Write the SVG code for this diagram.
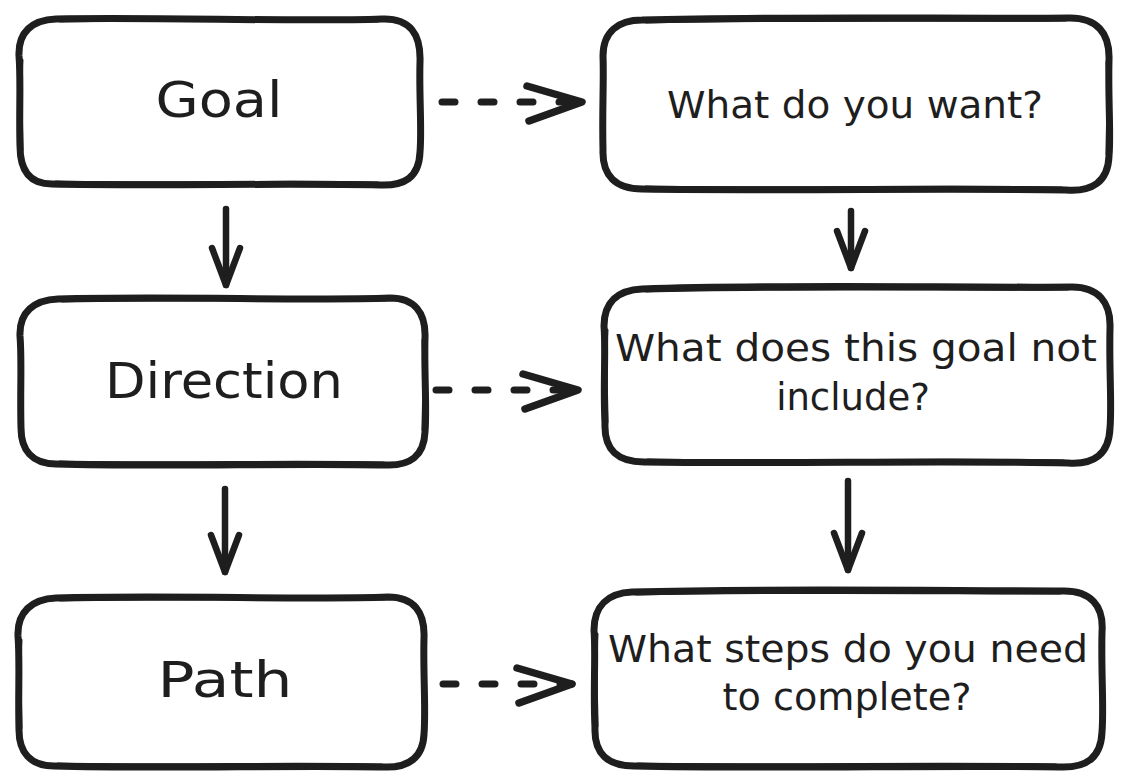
<svg xmlns="http://www.w3.org/2000/svg" width="1128" height="782" viewBox="0 0 1128 782">
<style>
.box{fill:#ffffff;stroke:#1e1e1e;stroke-width:7;stroke-linejoin:round;stroke-linecap:round}
.box2{fill:none;stroke:#1e1e1e;stroke-width:3;stroke-linecap:round}
.lbl{font-family:"DejaVu Sans","Liberation Sans",sans-serif;fill:#1e1e1e;text-anchor:middle}
.big{font-size:50px}
.q{font-size:37px}
.solid{fill:none;stroke:#1e1e1e;stroke-width:6.5;stroke-linecap:round}
.dash{fill:none;stroke:#1e1e1e;stroke-width:7;stroke-linecap:round;stroke-dasharray:13 26}
</style>
<defs>
<marker id="headV" markerUnits="userSpaceOnUse" orient="auto" refX="0" refY="0" markerWidth="60" markerHeight="50" viewBox="-45 -25 60 50" overflow="visible">
<path d="M-37,-14 L0,0 L-37,14" fill="none" stroke="#1e1e1e" stroke-width="6.5" stroke-linecap="round" stroke-linejoin="round" stroke-dasharray="none"/>
</marker>
<marker id="headD" markerUnits="userSpaceOnUse" orient="auto" refX="0" refY="0" markerWidth="80" markerHeight="60" viewBox="-65 -30 80 60" overflow="visible">
<path d="M-55,-16 L0,0 L-53,19" fill="none" stroke="#1e1e1e" stroke-width="7.5" stroke-linecap="round" stroke-linejoin="round" stroke-dasharray="none"/>
</marker>
</defs>

<g id="connectors">
<path class="dash" d="M442,102 L582,102" marker-end="url(#headD)"/>
<path class="dash" d="M436,390 L578,390" marker-end="url(#headD)"/>
<path class="dash" d="M443,684 L572,684" marker-end="url(#headD)"/>
<path class="solid" d="M226,209 L226,285" marker-end="url(#headV)"/>
<path class="solid" d="M225,489 L225,572" marker-end="url(#headV)"/>
<path class="solid" d="M851,211 L851,268" marker-end="url(#headV)"/>
<path class="solid" d="M848,481 L848,570" marker-end="url(#headV)"/>
</g>

<g id="goal">
<path class="box" d="M 56 19 C 160 17, 300 22, 382 19 C 410 18, 421 34, 420 62 C 419 95, 422 130, 420 152 C 419 178, 404 186, 380 185 C 290 183, 150 186, 52 184 C 28 184, 20 168, 20 146 C 19 110, 21 80, 19 56 C 18 32, 32 20, 56 19 Z"/>
<path class="box2" d="M 60 21 C 170 19, 300 20, 378 21 M 22 60 C 20 100, 22 130, 22 150 M 56 182 C 160 184, 300 181, 378 183"/>
<text class="lbl big" x="219" y="117" textLength="127" lengthAdjust="spacingAndGlyphs">Goal</text>
</g>

<g id="direction">
<path class="box" d="M 58 299 C 170 296, 310 301, 390 298 C 414 298, 426 312, 425 338 C 424 370, 427 410, 425 432 C 424 456, 410 466, 386 465 C 290 463, 160 467, 56 464 C 32 464, 21 450, 21 428 C 20 390, 22 360, 20 336 C 19 312, 34 300, 58 299 Z"/>
<path class="box2" d="M 62 301 C 170 299, 300 300, 386 300 M 423 340 C 425 380, 423 410, 423 430 M 60 462 C 170 464, 300 461, 384 463"/>
<text class="lbl big" x="224" y="398" textLength="238" lengthAdjust="spacingAndGlyphs">Direction</text>
</g>

<g id="path">
<path class="box" d="M 56 598 C 170 595, 310 600, 388 597 C 414 597, 425 612, 424 638 C 423 672, 426 710, 424 734 C 423 758, 408 768, 384 767 C 290 765, 160 769, 54 766 C 30 766, 19 752, 19 730 C 18 692, 20 662, 18 636 C 17 612, 32 599, 56 598 Z"/>
<path class="box2" d="M 60 600 C 170 598, 300 599, 384 599 M 21 640 C 19 680, 21 710, 21 728 M 58 764 C 170 766, 300 763, 382 765"/>
<text class="lbl big" x="225" y="697" textLength="135" lengthAdjust="spacingAndGlyphs">Path</text>
</g>

<g id="want">
<path class="box" d="M 642 20 C 780 16, 960 19, 1070 18 C 1096 18, 1110 32, 1109 60 C 1108 100, 1111 135, 1109 156 C 1108 182, 1092 192, 1066 190 C 950 188, 780 191, 642 189 C 616 189, 602 176, 603 150 C 602 110, 604 80, 603 56 C 603 32, 618 20, 642 20 Z"/>
<path class="box2" d="M 646 22 C 780 19, 960 21, 1066 20 M 1107 62 C 1109 100, 1107 130, 1107 154 M 646 187 C 780 189, 960 186, 1062 188"/>
<text class="lbl q" x="855" y="118" textLength="376" lengthAdjust="spacingAndGlyphs">What do you want?</text>
</g>

<g id="exclude">
<path class="box" d="M 642 289 C 780 284, 960 288, 1072 287 C 1098 287, 1111 302, 1110 328 C 1109 370, 1112 405, 1110 428 C 1109 454, 1094 465, 1068 463 C 950 460, 780 464, 644 462 C 618 462, 604 450, 605 424 C 603 384, 606 352, 604 326 C 604 302, 618 290, 642 289 Z"/>
<path class="box2" d="M 646 291 C 780 287, 960 290, 1068 289 M 607 330 C 605 370, 607 400, 607 422 M 648 460 C 780 462, 960 459, 1064 461"/>
<text class="lbl q" x="856" y="361" textLength="482" lengthAdjust="spacingAndGlyphs">What does this goal not</text>
<text class="lbl q" x="853" y="410">include?</text>
</g>

<g id="steps">
<path class="box" d="M 632 592 C 770 588, 950 591, 1064 591 C 1090 591, 1104 605, 1102 632 C 1101 672, 1104 708, 1102 732 C 1101 758, 1086 768, 1060 767 C 940 765, 770 769, 634 766 C 608 766, 594 754, 595 728 C 593 688, 596 656, 594 630 C 594 606, 608 593, 632 592 Z"/>
<path class="box2" d="M 636 594 C 770 591, 950 593, 1060 593 M 597 634 C 595 674, 597 704, 597 726 M 638 764 C 770 766, 950 763, 1056 765"/>
<text class="lbl q" x="848" y="662" textLength="480" lengthAdjust="spacingAndGlyphs">What steps do you need</text>
<text class="lbl q" x="847" y="710" textLength="249" lengthAdjust="spacingAndGlyphs">to complete?</text>
</g>
</svg>
